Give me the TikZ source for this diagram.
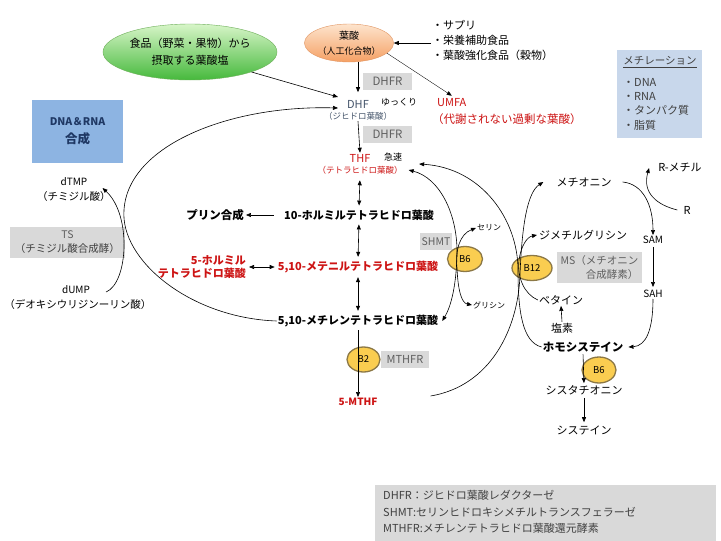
\documentclass[tikz,border=0pt]{standalone}
\usepackage{fontspec}
\setmainfont{Noto Sans CJK JP}
\usetikzlibrary{arrows.meta,shapes.geometric,calc}
\newcommand{\fsz}[2]{\fontsize{#1}{#2}\selectfont}
\definecolor{redtxt}{RGB}{205,20,20}
\definecolor{dhfcol}{RGB}{68,84,106}
\definecolor{grayfill}{RGB}{217,217,217}
\definecolor{graytxt}{RGB}{95,95,95}
\definecolor{darktxt}{RGB}{64,64,64}
\definecolor{vitfill}{RGB}{250,205,80}
\definecolor{vitdraw}{RGB}{140,120,70}
\definecolor{dnafill}{RGB}{141,180,226}
\definecolor{dnatxt}{RGB}{31,56,100}
\definecolor{methfill}{RGB}{200,215,235}
\definecolor{foodtop}{RGB}{215,245,200}
\definecolor{foodbot}{RGB}{70,185,60}
\definecolor{fooddraw}{RGB}{110,175,90}
\definecolor{folictop}{RGB}{253,228,205}
\definecolor{folicbot}{RGB}{245,160,100}
\definecolor{folicdraw}{RGB}{225,150,100}
\begin{document}
\begin{tikzpicture}[x=1pt,y=-1pt,
  >={Triangle[length=5pt,width=4pt]},
  every node/.style={inner sep=1pt, align=center, font=\fsz{11}{13}},
  conn/.style={line width=0.6pt, ->},
  thinconn/.style={line width=0.35pt, ->},
  enzbox/.style={fill=grayfill, text=graytxt, inner sep=0pt, font=\fsz{11}{13}},
  vit/.style={ellipse, fill=vitfill, draw=vitdraw, line width=1.3pt, inner sep=0pt, font=\fsz{9.5}{11}},
  tb/.style={font=\bfseries\fsz{11}{13}},
  sm/.style={font=\fsz{8}{9}},
  t9/.style={font=\fsz{9}{10}},
  t85/.style={font=\fsz{8.5}{10}}]
\useasboundingbox (0,0) rectangle (721,541);
\fill[white] (0,0) rectangle (721,541);

% boxes
\node[fill=dnafill, minimum width=91pt, minimum height=63pt, text=dnatxt, font=\bfseries\fsz{10.5}{18}] (dna) at (77.5,131.5) {DNA＆RNA\\{\fsz{12.5}{18}合成}};
\node[fill=methfill, minimum width=85pt, minimum height=88pt] (methbox) at (659.5,94) {};
\node[text=darktxt, font=\fsz{10.5}{13}] (methT) at (660,62) {\underline{メチレーション}};
\node[text=darktxt, align=left, anchor=north west, font=\fsz{11}{14.3}] (methI) at (622,77) {・DNA\\・RNA\\・タンパク質\\・脂質};
\node[enzbox, minimum width=49pt, minimum height=17pt, font=\fsz{11.5}{13}] (dhfr1) at (387.5,81.5) {DHFR};
\node[enzbox, minimum width=49pt, minimum height=17pt, font=\fsz{11.5}{13}] (dhfr2) at (387.5,134.5) {DHFR};
\node[enzbox, minimum width=32pt, minimum height=17pt, font=\fsz{10.5}{13}] (shmt) at (436,241.5) {SHMT};
\node[enzbox, minimum width=48pt, minimum height=17pt] (mthfr) at (405,359.5) {MTHFR};
\node[enzbox, minimum width=85pt, minimum height=31pt, align=right, font=\fsz{10.5}{14}] (ms) at (599.5,267.5) {MS（メチオニン\\合成酵素）};
\node[enzbox, minimum width=115pt, minimum height=31pt, font=\fsz{10.5}{14}] (ts) at (67.5,242.5) {TS\\{\color{darktxt}（チミジル酸合成酵）}};
\node[fill=grayfill, minimum width=341pt, minimum height=56pt] (legend) at (545.5,513) {};
\node[anchor=west, align=left, text=darktxt, font=\fsz{11}{16.5}] (legtxt) at (382,512) {DHFR：ジヒドロ葉酸レダクターゼ\\SHMT:セリンヒドロキシメチルトランスフェラーゼ\\MTHFR:メチレンテトラヒドロ葉酸還元酵素};

% ellipses
\node[ellipse, minimum width=174pt, minimum height=56pt, top color=foodtop, bottom color=foodbot, draw=fooddraw, line width=0.4pt, inner sep=0pt, font=\fsz{11}{17}] (food) at (190,52) {食品（野菜・果物）から\\摂取する葉酸塩};
\node[ellipse, minimum width=82pt, minimum height=38pt, top color=folictop, bottom color=folicbot, draw=folicdraw, line width=0.4pt, inner sep=0pt, font=\fsz{10}{15}] (folic) at (349,43) {葉酸\\{\fsz{9}{15}（人工化合物）}};
\node[vit, minimum width=35pt, minimum height=25pt] (b6a) at (465,259) {B6};
\node[vit, minimum width=40pt, minimum height=25pt] (b12) at (532,268) {B12};
\node[vit, minimum width=33pt, minimum height=25pt] (b2) at (363.5,359.5) {B2};
\node[vit, minimum width=34pt, minimum height=26pt] (b6b) at (599,370) {B6};

% texts
\node[anchor=west, align=left, font=\fsz{11}{15}] (supp) at (431,40) {・サプリ\\・栄養補助食品\\・葉酸強化食品（穀物）};
\node[text=dhfcol] (dhf) at (358,104) {DHF};
\node[text=dhfcol, t85] (dhfj) at (358,116) {（ジヒドロ葉酸）};
\node[t9] (slow) at (399,102) {ゆっくり};
\node[text=redtxt, anchor=west] (umfa) at (436,103) {UMFA};
\node[text=redtxt, anchor=west, font=\fsz{11.5}{13}] (umfaj) at (431,119) {（代謝されない過剰な葉酸）};
\node[text=redtxt] (thf) at (360,158) {THF};
\node[text=redtxt, t85] (thfj) at (360,170) {（テトラヒドロ葉酸）};
\node[t9] (fast) at (393,157) {急速};
\node[tb] (formyl10) at (359,215) {10-ホルミルテトラヒドロ葉酸};
\node[tb, font=\bfseries\fsz{11.5}{13}] (purine) at (215,215) {プリン合成};
\node[tb, text=redtxt] (methenyl) at (358,267) {5,10-メテニルテトラヒドロ葉酸};
\node[tb, text=redtxt, align=right, anchor=east] (formyl5) at (247,267) {5-ホルミル\\テトラヒドロ葉酸};
\node[tb] (methylene) at (358,321) {5,10-メチレンテトラヒドロ葉酸};
\node[sm, anchor=west] (serine) at (476,228) {セリン};
\node[sm, anchor=west] (glycine) at (472,305) {グリシン};
\node[tb, text=redtxt, font=\bfseries\fsz{10}{12}] (mthf5) at (358,402) {5-MTHF};
\node[font=\fsz{10}{12}] (dtmp) at (74,182) {dTMP};
\node[font=\fsz{10.5}{12}] (dtmpj) at (74,197) {（チミジル酸）};
\node[font=\fsz{10}{12}] (dump) at (76,290) {dUMP};
\node[font=\fsz{10.5}{12}] (dumpj) at (78,305) {（デオキシウリジンーリン酸）};
\node (methionine) at (584,182) {メチオニン};
\node (rmethyl) at (680,167) {R-メチル};
\node (rr) at (687,210) {R};
\node[font=\fsz{10}{12}] (sam) at (653,240) {SAM};
\node[font=\fsz{10}{12}] (sah) at (653,294) {SAH};
\node[anchor=west] (dmg) at (538,235) {ジメチルグリシン};
\node (betaine) at (561,300) {ベタイン};
\node (chlorine) at (562,328) {塩素};
\node[tb, font=\bfseries\fsz{11.5}{13}] (hcy) at (583,347) {ホモシステイン};
\node (cysta) at (584,390) {シスタチオニン};
\node (cys) at (584,430) {システイン};

% connectors
\draw[conn] (food.-18) -- ($(dhf.west)+(-8,-7)$);
\draw[conn] (dhf.north |- folic.south) -- +(0,30);
\draw[conn] (supp.west |- folic.east) -- (folic.east);
\draw[thinconn] (folic.-15) -- ($(umfa.north)+(0,-2)$);
\draw[conn] (dhfj.south) -- (thf.north);
\draw[conn,<->,shorten <=5pt,shorten >=3pt] (thfj.south) -- (formyl10.north);
\draw[conn,<->,shorten <=3pt,shorten >=3pt] (formyl10.south) -- (methenyl.north);
\draw[conn,<->,shorten <=3pt,shorten >=3pt] (methenyl.south) -- (methylene.north);
\draw[conn,shorten <=9pt,shorten >=1pt] (formyl10.west) -- (purine.east);
\draw[conn,<->,shorten <=2pt,shorten >=2pt] (formyl5.east |- methenyl) -- (methenyl.west);
\draw[conn,shorten <=2pt] (methylene.south) -- (mthf5.north);
\draw[conn,<->] ([xshift=5pt]thfj.east) .. controls (440,178) and (458,215) .. (457,255) .. controls (456,290) and (450,308) .. ([xshift=3pt]methylene.east);
\draw[conn,<->] (serine.west) .. controls (460,234) and (455,250) .. (457,268) .. controls (458,292) and (462,303) .. (glycine.west);
\draw[conn] (methylene.west) .. controls (190,318) and (120,260) .. (124,210) .. controls (128,145) and (230,105) .. ($(dhf.west)+(-8,4)$);
\draw[conn] ($(dump.east)+(15,2)$) .. controls (128,283) and (132,215) .. ($(dtmp.east)+(14,6)$);
\draw[conn] (hcy.west) .. controls (522,342) and (518,310) .. (518,270) .. controls (518,220) and (482,168) .. ($(fast.east)+(16,7)$);
\draw[conn] ($(mthf5.east)+(52,-6)$) .. controls (490,386) and (518,330) .. (520,275) .. controls (522,222) and (528,192) .. ($(methionine.west)+(-12,0)$);
\draw[conn] (betaine.west) .. controls (524,294) and (517,277) .. (519,260) .. controls (521,246) and (527,237) .. ([xshift=-1pt]dmg.west);
\draw[conn] ([xshift=10pt]methionine.east) .. controls (643,184) and (653,205) .. (sam.north);
\draw[conn] ([xshift=-5pt]rr.west) .. controls (657,205) and (642,193) .. ($(rmethyl.west)+(-8,1)$);
\draw[conn,shorten <=2pt,shorten >=2pt] (sam.south) -- (sah.north);
\draw[conn] (sah.south) .. controls (653,330) and (646,346) .. ([xshift=4pt]hcy.east);
\draw[conn] (chlorine.north) -- (betaine.south);
\draw[conn,shorten <=1pt,shorten >=1pt] (hcy.south) -- (cysta.north);
\draw[conn,shorten <=2pt,shorten >=2pt] (cysta.south) -- (cys.north);
\end{tikzpicture}
\end{document}
